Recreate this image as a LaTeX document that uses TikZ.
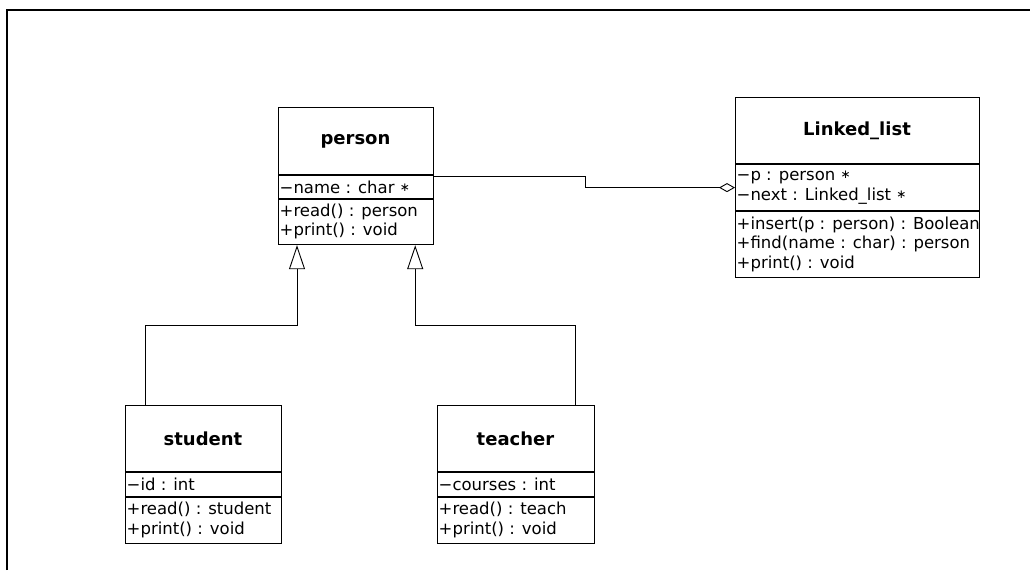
\documentclass[tikz,border=0pt]{standalone}
\usepackage{fontspec}
\setmainfont{DejaVu Sans}
\usetikzlibrary{arrows.meta}
% small raised asterisk used for pointer types
\newcommand{\ptrstar}{\raisebox{2pt}{\fontsize{12}{12}\selectfont ∗}}
\begin{document}
\begin{tikzpicture}[x=1pt,y=-1pt,
  classbox/.style={draw, line width=1.2pt, inner sep=0pt, anchor=north west},
  classtitle/.style={font=\fontsize{18}{20}\selectfont\bfseries, inner sep=0pt},
  members/.style={font=\fontsize{16.5}{19.5}\selectfont, align=left, anchor=west, inner xsep=1.5pt, inner ysep=0pt},
  compart/.style={line width=1.2pt},
  link/.style={line width=0.9pt},
  generalize/.style={link, -{Triangle[open, length=24pt, width=16pt, line width=0.9pt]}},
  aggregate/.style={link, -{Diamond[open, length=16pt, width=9pt, line width=0.9pt]}},
]
\useasboundingbox (0,0) rectangle (1030,570);
% outer frame (only top and left edges fall inside the page)
\draw[line width=2pt] (7,570) -- (7,10) -- (1030,10);

% class person
\node[classbox, minimum width=155pt, minimum height=137pt] (person) at (278,107) {};
\draw[compart] (278,175) -- (433,175);
\draw[compart] (278,199) -- (433,199);
\node[classtitle] (person-name) at (355.5,141) {person};
\node[members] (person-attr) at (278,187) {−name : char \ptrstar};
\node[members] (person-ops) at (278,221.5) {+read() : person\\+print() : void};

% class Linked_list
\node[classbox, minimum width=244pt, minimum height=180pt] (ll) at (735,97) {};
\draw[compart] (735,164) -- (979,164);
\draw[compart] (735,211) -- (979,211);
\node[classtitle] (ll-name) at (857,130.5) {Linked\_list};
\node[members] (ll-attr) at (735,187.5) {−p : person \ptrstar\\−next : Linked\_list \ptrstar};
\node[members] (ll-ops) at (735,244) {+insert(p : person) : Boolean\\+find(name : char) : person\\+print() : void};

% class student
\node[classbox, minimum width=156pt, minimum height=138pt] (student) at (125,405) {};
\draw[compart] (125,472) -- (281,472);
\draw[compart] (125,497) -- (281,497);
\node[classtitle] (student-name) at (203,438.5) {student};
\node[members] (student-attr) at (125,484.5) {−id : int};
\node[members] (student-ops) at (125,520) {+read() : student\\+print() : void};

% class teacher
\node[classbox, minimum width=157pt, minimum height=138pt] (teacher) at (437,405) {};
\draw[compart] (437,472) -- (594,472);
\draw[compart] (437,497) -- (594,497);
\node[classtitle] (teacher-name) at (515.5,438.5) {teacher};
\node[members] (teacher-attr) at (437,484.5) {−courses : int};
\node[members] (teacher-ops) at (437,520) {+read() : teach\\+print() : void};

% relations
\draw[aggregate] (person.east) -- ++(151,0) |- (ll.west);
\draw[generalize] ([xshift=20pt]student.north west) -- ++(0,-80) -| ([xshift=19pt]person.south west);
\draw[generalize] ([xshift=-20pt]teacher.north east) -- ++(0,-80) -| ([xshift=-19pt]person.south east);
\end{tikzpicture}
\end{document}
